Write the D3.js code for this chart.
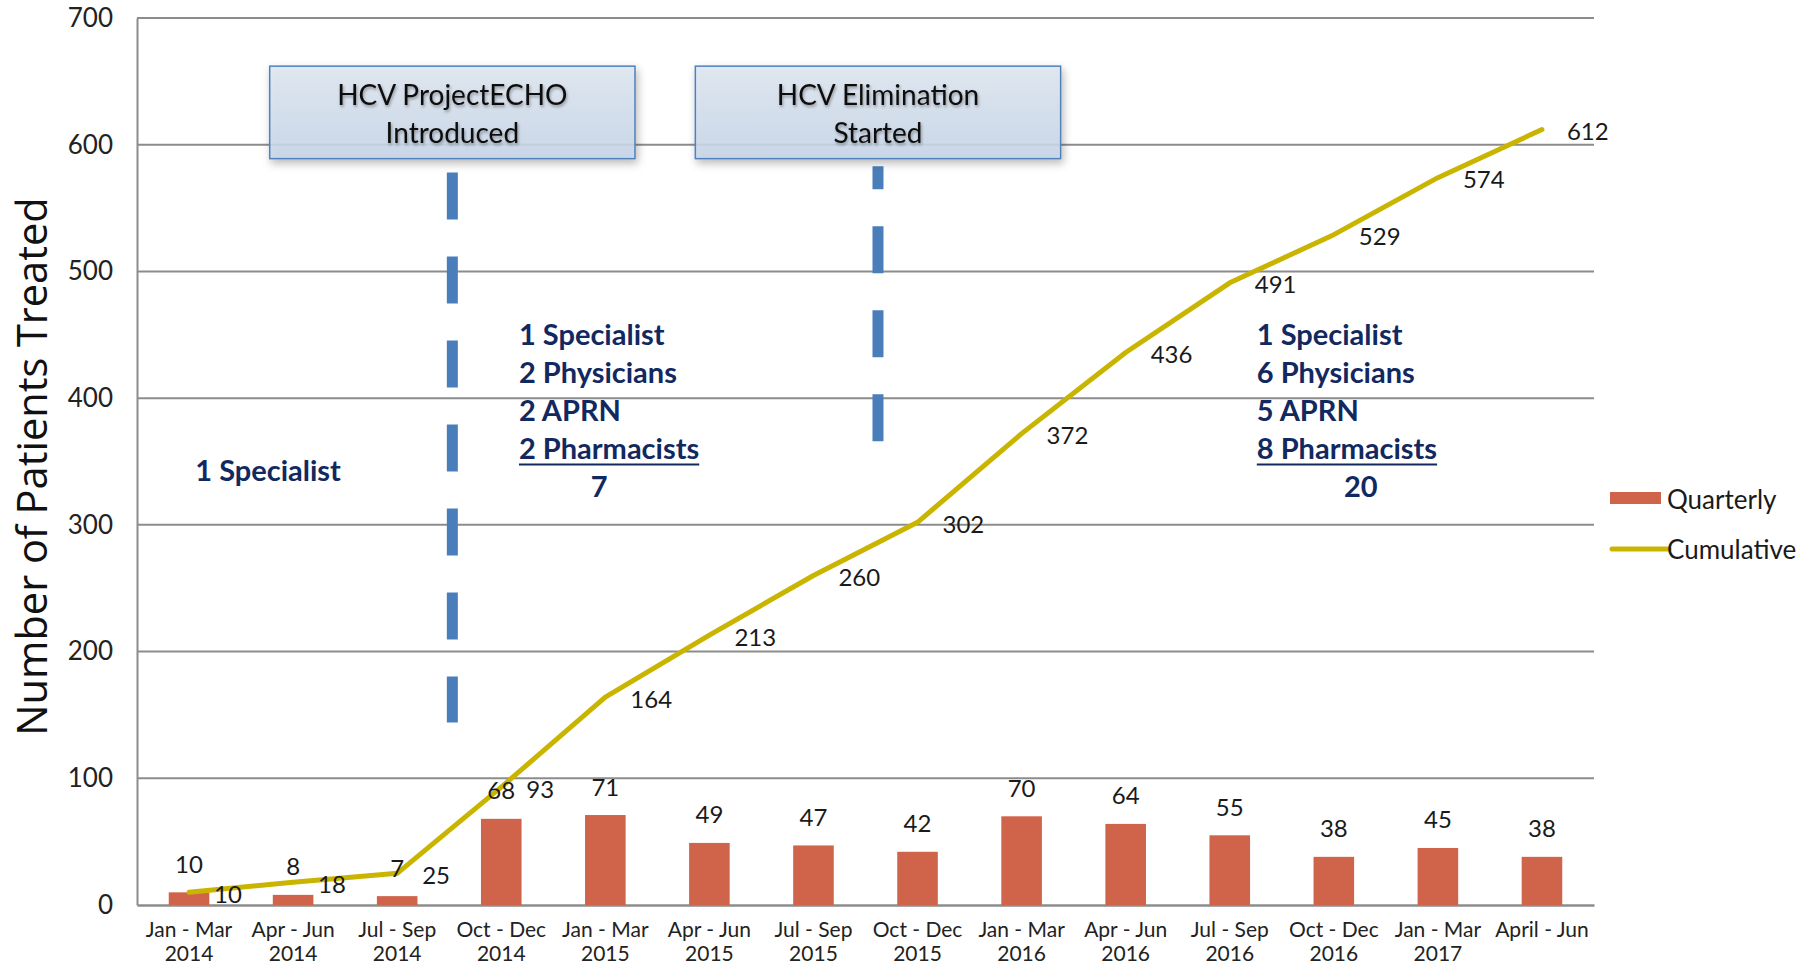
<!DOCTYPE html>
<html>
<head>
<meta charset="utf-8">
<script src="https://cdn.jsdelivr.net/npm/d3@7/dist/d3.min.js"></script>
<style>
  html, body { margin: 0; padding: 0; background: #ffffff; }
  svg { display: block; }
</style>
</head>
<body>
<svg id="chart" width="1819" height="965"></svg>
<script>
// Quarterly HCV treatment counts and running total
const quarters   = ["Jan - Mar","Apr - Jun","Jul - Sep","Oct - Dec","Jan - Mar","Apr - Jun","Jul - Sep","Oct - Dec","Jan - Mar","Apr - Jun","Jul - Sep","Oct - Dec","Jan - Mar","April - Jun"];
const years      = ["2014","2014","2014","2014","2015","2015","2015","2015","2016","2016","2016","2016","2017",""];
const quarterly  = [10, 8, 7, 68, 71, 49, 47, 42, 70, 64, 55, 38, 45, 38];
const cumulative = [10, 18, 25, 93, 164, 213, 260, 302, 372, 436, 491, 529, 574, 612];
const yTicks     = [0, 100, 200, 300, 400, 500, 600, 700];
const seriesNames = ["Quarterly", "Cumulative"];
const yTitle = "Number of Patients Treated";

// Program milestones (position in category steps, dashed marker span in patient units)
const milestones = [
  { lines: ["HCV ProjectECHO", "Introduced"], at: 3.03, dashFrom: 578, dashTo: 144, dashStart: 0 },
  { lines: ["HCV Elimination", "Started"],    at: 7.12, dashFrom: 583, dashTo: 366, dashStart: 24 }
];

// Treating staff in each period
const staffing = [
  { lines: ["1 Specialist"], total: null, at: 0.56, level: 344 },
  { lines: ["1 Specialist", "2 Physicians", "2 APRN", "2 Pharmacists"], total: "7",  totalAt: 4.44,  at: 3.67,  level: 451 },
  { lines: ["1 Specialist", "6 Physicians", "5 APRN", "8 Pharmacists"], total: "20", totalAt: 11.76, at: 10.76, level: 451 }
];

const COL = {
  bar: "#d0644b",
  line: "#c9b500",
  grid: "#8c8c8c",
  text: "#1a1a1a",
  navy: "#12295f",
  marker: "#4a7ebb",
  boxStroke: "#4f81bd"
};
const FONT = "Lato, 'Open Sans', sans-serif";

const svg = d3.select("#chart");
const plot = { left: 137, right: 1594, top: 18, bottom: 905 };

const idx = d3.range(quarters.length);
const x = d3.scaleBand().domain(idx).range([plot.left, plot.right]).paddingInner(0.61).paddingOuter(0.305);
const y = d3.scaleLinear().domain([0, 700]).range([plot.bottom, plot.top]);
const cx = i => x(i) + x.bandwidth() / 2;
const stepX = p => plot.left + p * x.step();

// filters
const defs = svg.append("defs");
const sh = defs.append("filter").attr("id", "boxShadow").attr("x", "-10%").attr("y", "-20%").attr("width", "130%").attr("height", "160%");
sh.append("feDropShadow").attr("dx", 2).attr("dy", 4).attr("stdDeviation", 4).attr("flood-color", "#000").attr("flood-opacity", 0.3);
const tsh = defs.append("filter").attr("id", "textShadow").attr("x", "-10%").attr("y", "-30%").attr("width", "130%").attr("height", "170%");
tsh.append("feDropShadow").attr("dx", 1).attr("dy", 2).attr("stdDeviation", 1.6).attr("flood-color", "#000").attr("flood-opacity", 0.35);
const grad = defs.append("linearGradient").attr("id", "boxFill").attr("x1", 0).attr("y1", 0).attr("x2", 0).attr("y2", 1);
grad.append("stop").attr("offset", "0%").attr("stop-color", "#dfe7f1");
grad.append("stop").attr("offset", "100%").attr("stop-color", "#c7d6e9");

// gridlines
svg.append("g").selectAll("line").data(yTicks.filter(v => v > 0)).join("line")
  .attr("x1", plot.left).attr("x2", plot.right)
  .attr("y1", d => y(d)).attr("y2", d => y(d))
  .attr("stroke", COL.grid).attr("stroke-width", 2);

// y axis
const yAxis = svg.append("g").attr("transform", `translate(${plot.left},0)`)
  .call(d3.axisLeft(y).tickValues(yTicks).tickSize(0).tickPadding(24));
yAxis.select(".domain").attr("stroke", COL.grid).attr("stroke-width", 2);
yAxis.selectAll("text").attr("font-family", FONT).attr("font-size", 26).attr("fill", "#222");

// x axis (two-line labels)
const xAxis = svg.append("g").attr("transform", `translate(0,${plot.bottom})`)
  .call(d3.axisBottom(x).tickSize(0).tickFormat(() => ""));
xAxis.select(".domain").attr("stroke", COL.grid).attr("stroke-width", 2.5);
xAxis.selectAll(".tick text").remove();
xAxis.selectAll(".tick").append("text")
  .attr("font-family", FONT).attr("font-size", 21).attr("fill", "#222")
  .attr("text-anchor", "middle")
  .each(function(i) {
    const t = d3.select(this);
    t.append("tspan").attr("x", 0).attr("y", 32).text(quarters[i]);
    if (years[i]) t.append("tspan").attr("x", 0).attr("y", 56).text(years[i]);
  });

// y title
svg.append("text")
  .attr("transform", `translate(47,${(plot.top + plot.bottom) / 2 + 5}) rotate(-90)`)
  .attr("text-anchor", "middle")
  .attr("font-family", "'Open Sans', 'DejaVu Sans', sans-serif").attr("font-size", 41.5).attr("fill", "#111")
  .text(yTitle);

// milestone dashed markers
svg.append("g").selectAll("line").data(milestones).join("line")
  .attr("x1", d => stepX(d.at)).attr("x2", d => stepX(d.at))
  .attr("y1", d => y(d.dashFrom)).attr("y2", d => y(d.dashTo))
  .attr("stroke", COL.marker).attr("stroke-width", 11)
  .attr("stroke-dasharray", "47 37").attr("stroke-dashoffset", d => d.dashStart);

// milestone boxes
const boxHalf = 1.755, boxTop = 662, boxBottom = 589;
const mb = svg.append("g").selectAll("g").data(milestones).join("g");
mb.append("rect")
  .attr("x", d => stepX(d.at - boxHalf)).attr("width", 2 * boxHalf * x.step())
  .attr("y", y(boxTop)).attr("height", y(boxBottom) - y(boxTop))
  .attr("fill", "url(#boxFill)").attr("fill-opacity", 0.88)
  .attr("stroke", COL.boxStroke).attr("stroke-width", 1.5)
  .attr("filter", "url(#boxShadow)");
mb.each(function(d) {
  const g = d3.select(this);
  d.lines.forEach((ln, k) => {
    g.append("text")
      .attr("x", stepX(d.at)).attr("y", y(boxTop) + 28 + k * 38)
      .attr("text-anchor", "middle").attr("dominant-baseline", "central")
      .attr("font-family", FONT).attr("font-size", 28).attr("fill", "#111")
      .attr("filter", "url(#textShadow)")
      .text(ln);
  });
});

// staffing notes
const sg = svg.append("g").selectAll("g").data(staffing).join("g");
sg.each(function(d) {
  const g = d3.select(this);
  const lineH = 38;
  d.lines.forEach((ln, k) => {
    const t = g.append("text")
      .attr("x", stepX(d.at)).attr("y", y(d.level) + k * lineH)
      .attr("dominant-baseline", "central")
      .attr("font-family", FONT).attr("font-weight", 700).attr("font-size", 29).attr("fill", COL.navy)
      .text(ln);
    if (d.total && k === d.lines.length - 1) {
      const w = t.node().getComputedTextLength();
      g.append("line")
        .attr("x1", stepX(d.at)).attr("x2", stepX(d.at) + w)
        .attr("y1", y(d.level) + k * lineH + 17).attr("y2", y(d.level) + k * lineH + 17)
        .attr("stroke", COL.navy).attr("stroke-width", 2);
    }
  });
  if (d.total) {
    g.append("text")
      .attr("x", stepX(d.totalAt)).attr("y", y(d.level) + d.lines.length * lineH)
      .attr("text-anchor", "middle").attr("dominant-baseline", "central")
      .attr("font-family", FONT).attr("font-weight", 700).attr("font-size", 29).attr("fill", COL.navy)
      .text(d.total);
  }
});

// quarterly bars
svg.append("g").selectAll("rect").data(quarterly).join("rect")
  .attr("x", (d, i) => x(i)).attr("width", x.bandwidth())
  .attr("y", d => y(d)).attr("height", d => y(0) - y(d))
  .attr("fill", COL.bar);

// cumulative line
svg.append("path").datum(cumulative)
  .attr("fill", "none").attr("stroke", COL.line).attr("stroke-width", 5)
  .attr("stroke-linejoin", "round").attr("stroke-linecap", "round")
  .attr("d", d3.line().x((d, i) => cx(i)).y(d => y(d)));

// bar value labels
svg.append("g").selectAll("text").data(quarterly).join("text")
  .attr("x", (d, i) => cx(i)).attr("y", d => y(d) - 29)
  .attr("text-anchor", "middle").attr("dominant-baseline", "central")
  .attr("font-family", FONT).attr("font-size", 24).attr("fill", COL.text)
  .text(d => d);

// cumulative value labels
svg.append("g").selectAll("text").data(cumulative).join("text")
  .attr("x", (d, i) => cx(i) + 25).attr("y", d => y(d) + 1)
  .attr("dominant-baseline", "central")
  .attr("font-family", FONT).attr("font-size", 24).attr("fill", COL.text)
  .text(d => d);

// legend
const lg = svg.append("g").attr("transform", "translate(1610,0)");
lg.append("rect").attr("x", 0).attr("y", 492).attr("width", 51).attr("height", 12).attr("fill", COL.bar);
lg.append("line").attr("x1", 2).attr("x2", 59).attr("y1", 549).attr("y2", 549)
  .attr("stroke", COL.line).attr("stroke-width", 5).attr("stroke-linecap", "round");
lg.selectAll("text").data(seriesNames).join("text")
  .attr("x", 57).attr("y", (d, i) => i === 0 ? 499 : 549)
  .attr("dominant-baseline", "central")
  .attr("font-family", FONT).attr("font-size", 26).attr("fill", COL.text)
  .text(d => d);
</script>
</body>
</html>
